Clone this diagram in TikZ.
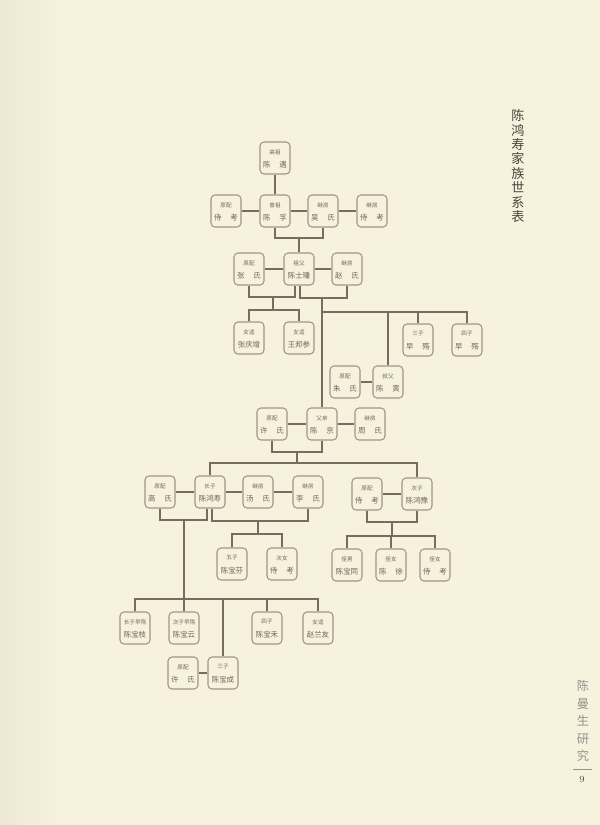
\documentclass[tikz,border=0pt]{standalone}
\usepackage{fontspec}
\newfontfamily\cjk{Noto Sans CJK SC}
\usetikzlibrary{calc}
\definecolor{bg}{RGB}{247,242,221}
\definecolor{edgec}{RGB}{237,232,211}
\definecolor{boxc}{RGB}{160,150,136}
\definecolor{linec}{RGB}{118,108,96}
\definecolor{txt}{RGB}{108,100,90}
\definecolor{ttl}{RGB}{72,67,62}
\definecolor{sealc}{RGB}{150,146,142}
\tikzset{
  pbox/.style={draw=boxc, line width=0.8pt, rounded corners=3pt, minimum width=22.5pt, minimum height=24pt, inner sep=0pt, fill=bg},
  plab/.style={font=\cjk\fontsize{4.2}{5}\selectfont, text=txt, inner sep=0pt},
  pname/.style={font=\cjk\fontsize{5.6}{6}\selectfont, text=txt, inner sep=0pt},
  conn/.style={draw=linec, line width=1.1pt},
}
\newcommand\pn[5]{%
  \node[pbox] (#1) at (#2,#3) {};
  \node[plab] (#1-l) at ($(#1.center)+(0,-6)$) {#4};
  \node[pname] (#1-n) at ($(#1.center)+(0,7)$) {#5};}
\newcommand\tw[2]{#1\hspace{1.15em}#2}
\begin{document}
\begin{tikzpicture}[x=0.75pt,y=-0.75pt]
\useasboundingbox (0,0) rectangle (600,825);
\fill[bg] (0,0) rectangle (600,825);
\shade[left color=edgec, right color=bg] (0,0) rectangle (60,825);

% title
\node[font=\cjk\fontsize{9.8}{10.8}\selectfont, text=ttl, align=center, inner sep=0pt] (title) at (518,166) {陈\\鸿\\寿\\家\\族\\世\\系\\表};
% footer
\node[font=\cjk\fontsize{9.2}{13.2}\selectfont, text=sealc, align=center, inner sep=0pt] (seal) at (583,721) {陈\\曼\\生\\研\\究};
\coordinate (fl) at (573,769);
\coordinate (fr) at (592,769);
\draw[sealc, line width=0.6pt] (fl) -- (fr);
\node[font=\fontsize{7}{8}\selectfont, text=ttl, inner sep=0pt] (pg) at (582,779) {9};

% people
\pn{gz}{275}{158}{高祖}{\tw{陈}{遇}}
\pn{yp1}{226}{211}{原配}{\tw{侍}{考}}
\pn{zz}{275}{211}{曾祖}{\tw{陈}{孚}}
\pn{jf1}{323}{211}{继房}{\tw{吴}{氏}}
\pn{jf2}{372}{211}{继房}{\tw{侍}{考}}
\pn{zs}{249}{269}{原配}{\tw{张}{氏}}
\pn{zf}{299}{269}{祖父}{陈士璠}
\pn{zhao}{347}{269}{继房}{\tw{赵}{氏}}
\pn{nv1}{249}{338}{女适}{张庆增}
\pn{nv2}{299}{338}{女适}{王邦参}
\pn{s3}{418}{340}{三子}{\tw{早}{殇}}
\pn{s4}{467}{340}{四子}{\tw{早}{殇}}
\pn{zhu}{345}{382}{原配}{\tw{朱}{氏}}
\pn{sf}{388}{382}{叔父}{\tw{陈}{寅}}
\pn{xu1}{272}{424}{原配}{\tw{许}{氏}}
\pn{fq}{322}{424}{父亲}{\tw{陈}{京}}
\pn{zhou}{370}{424}{继房}{\tw{周}{氏}}
\pn{gao}{160}{492}{原配}{\tw{高}{氏}}
\pn{zz1}{210}{492}{长子}{陈鸿寿}
\pn{tang}{258}{492}{继房}{\tw{汤}{氏}}
\pn{li}{308}{492}{继房}{\tw{李}{氏}}
\pn{yp2}{367}{494}{原配}{\tw{侍}{考}}
\pn{cz}{417}{494}{次子}{陈鸿豫}
\pn{wz}{232}{564}{五子}{陈宝芬}
\pn{cn}{282}{564}{次女}{\tw{侍}{考}}
\pn{zn}{347}{565}{侄男}{陈宝同}
\pn{zv1}{391}{565}{侄女}{\tw{陈}{徐}}
\pn{zv2}{435}{565}{侄女}{\tw{侍}{考}}
\pn{c1}{135}{628}{长子早殇}{陈宝枝}
\pn{c2}{184}{628}{次子早殇}{陈宝云}
\pn{c4}{267}{628}{四子}{陈宝禾}
\pn{nv3}{318}{628}{女适}{赵兰友}
\pn{xu2}{183}{673}{原配}{\tw{许}{氏}}
\pn{c3}{223}{673}{三子}{陈宝成}

% spouse links
\draw[conn] (gz) -- (zz);
\draw[conn] (yp1) -- (zz);
\draw[conn] (zz) -- (jf1);
\draw[conn] (jf1) -- (jf2);
\draw[conn] (zs) -- (zf);
\draw[conn] (zf) -- (zhao);
\draw[conn] (zhu) -- (sf);
\draw[conn] (xu1) -- (fq);
\draw[conn] (fq) -- (zhou);
\draw[conn] (gao) -- (zz1);
\draw[conn] (zz1) -- (tang);
\draw[conn] (tang) -- (li);
\draw[conn] (yp2) -- (cz);
\draw[conn] (xu2) -- (c3);

% descent
\coordinate (b1) at (299,238);
\draw[conn] (zz.south) |- (b1) -| (jf1.south);
\draw[conn] (b1) -- (zf.north);

\coordinate (b2) at (273,297);
\coordinate (b3) at (273,310);
\draw[conn] (zs.south) |- (b2) -| ([xshift=-3pt]zf.south);
\draw[conn] (b2) -- (b3);
\draw[conn] (nv1.north) |- (b3) -| (nv2.north);

\coordinate (b4) at (322,298);
\coordinate (b5) at (322,312);
\draw[conn] ([xshift=0.75pt]zf.south) |- (b4) -| (zhao.south);
\draw[conn] (b4) -- (fq.north);
\draw[conn] (b5) -| (s4.north);
\draw[conn] (sf.north |- b5) -- (sf.north);
\draw[conn] (s3.north |- b5) -- (s3.north);

\coordinate (b6) at (297,452);
\coordinate (b7) at (297,463);
\draw[conn] (xu1.south) |- (b6) -| (fq.south);
\draw[conn] (b6) -- (b7);
\draw[conn] (zz1.north) |- (b7) -| (cz.north);

\coordinate (b8) at (184,520);
\coordinate (b9) at (184,599);
\draw[conn] (gao.south) |- (b8) -| ([xshift=-2.25pt]zz1.south);
\draw[conn] (b8) -- (c2.north);
\draw[conn] (c1.north) |- (b9) -| (nv3.north);
\draw[conn] (c3.north |- b9) -- (c3.north);
\draw[conn] (c4.north |- b9) -- (c4.north);

\coordinate (b10) at (258,521);
\coordinate (b11) at (258,534);
\draw[conn] ([xshift=1.5pt]zz1.south) |- (b10) -| (li.south);
\draw[conn] (b10) -- (b11);
\draw[conn] (wz.north) |- (b11) -| (cn.north);

\coordinate (b12) at (392,522);
\coordinate (b13) at (392,536);
\draw[conn] (yp2.south) |- (b12) -| (cz.south);
\draw[conn] (b12) -- (b13);
\draw[conn] (zn.north) |- (b13) -| (zv2.north);
\draw[conn] (zv1.north |- b13) -- (zv1.north);
\end{tikzpicture}
\end{document}
